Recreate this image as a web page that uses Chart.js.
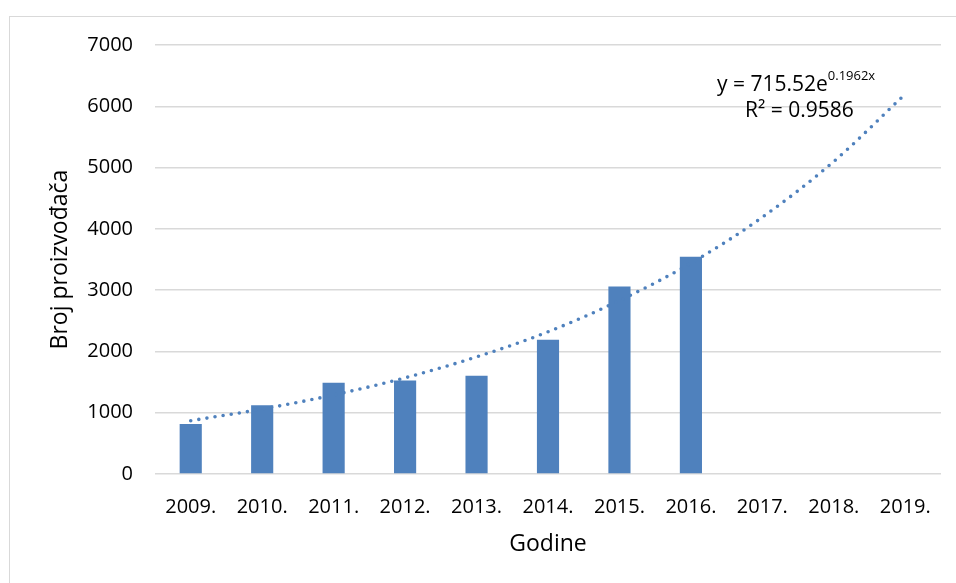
<!DOCTYPE html>
<html>
<head>
<meta charset="utf-8">
<script src="https://cdn.jsdelivr.net/npm/chart.js@4/dist/chart.umd.min.js"></script>
<style>
  html, body { margin: 0; padding: 0; background: #fff; overflow: hidden; }
  #frame {
    position: absolute; left: 9px; top: 16px; width: 1000px; height: 700px;
    border: 1.5px solid #d9d9d9; box-sizing: border-box;
  }
  #chart { position: absolute; left: 0; top: 0; }
</style>
</head>
<body>
<div id="frame"></div>
<canvas id="chart" width="956" height="583"></canvas>
<script>
// Chart data
const years = ['2009.', '2010.', '2011.', '2012.', '2013.', '2014.', '2015.', '2016.', '2017.', '2018.', '2019.'];
const producers = [815, 1120, 1490, 1525, 1605, 2190, 3060, 3545, null, null, null];
// exponential trend
const trend = [870, 1060, 1290, 1570, 1910, 2320, 2830, 3440, 4190, 5100, 6200];
const yTicks = [0, 1000, 2000, 3000, 4000, 5000, 6000, 7000];

const FONT = '"Open Sans", "Noto Sans", sans-serif';
const BLUE = '#4f81bd';

// Trendline equation label
const equationLabel = {
  id: 'equationLabel',
  afterDatasetsDraw(chart) {
    const { ctx, chartArea } = chart;
    const x0 = chartArea.left + 562;
    ctx.save();
    ctx.fillStyle = '#000';
    ctx.textBaseline = 'alphabetic';
    ctx.textAlign = 'left';
    ctx.font = '21px ' + FONT;
    const main = 'y = 715.52e';
    ctx.fillText(main, x0, chartArea.top + 46);
    const w = ctx.measureText(main).width;
    ctx.font = '13px ' + FONT;
    ctx.fillText('0.1962x', x0 + w, chartArea.top + 35);
    ctx.font = '21px ' + FONT;
    ctx.fillText('R² = 0.9586', x0 + 28, chartArea.top + 72);
    ctx.restore();
  }
};

new Chart(document.getElementById('chart'), {
  type: 'bar',
  data: {
    labels: years,
    datasets: [{
      type: 'bar',
      label: 'Broj proizvođača',
      data: producers,
      backgroundColor: BLUE,
      borderWidth: 0,
      barPercentage: 0.31,
      categoryPercentage: 1,
      order: 2
    }, {
      type: 'line',
      label: 'Trend',
      data: trend,
      borderColor: BLUE,
      borderWidth: 3.6,
      borderDash: [0, 8.2],
      borderCapStyle: 'round',
      pointRadius: 0,
      cubicInterpolationMode: 'monotone',
      fill: false,
      order: 1
    }]
  },
  options: {
    responsive: false,
    devicePixelRatio: 1,
    animation: false,
    layout: { padding: { left: 47, right: 15, top: 45, bottom: 25 } },
    plugins: {
      legend: { display: false },
      tooltip: { enabled: false }
    },
    scales: {
      x: {
        grid: { display: false },
        border: { display: false },
        ticks: { color: '#000', font: { family: FONT, size: 20 }, padding: 13, maxRotation: 0 },
        title: { display: true, text: 'Godine', color: '#000', font: { family: FONT, size: 23 }, padding: 0 },
        afterFit(scale) { scale.height = 583 - 25 - 474; }
      },
      y: {
        min: 0,
        max: 7000,
        afterBuildTicks(scale) { scale.ticks = yTicks.map(v => ({ value: v })); },
        grid: { color: '#d9d9d9', lineWidth: 1.5, drawTicks: false },
        border: { display: false },
        ticks: { color: '#000', font: { family: FONT, size: 20 }, padding: 22, callback: v => String(v) },
        title: { display: true, text: 'Broj proizvođača', color: '#000', font: { family: FONT, size: 23 }, padding: 0 },
        afterFit(scale) { scale.width = 155 - 47; }
      }
    }
  },
  plugins: [equationLabel]
});
</script>
</body>
</html>
